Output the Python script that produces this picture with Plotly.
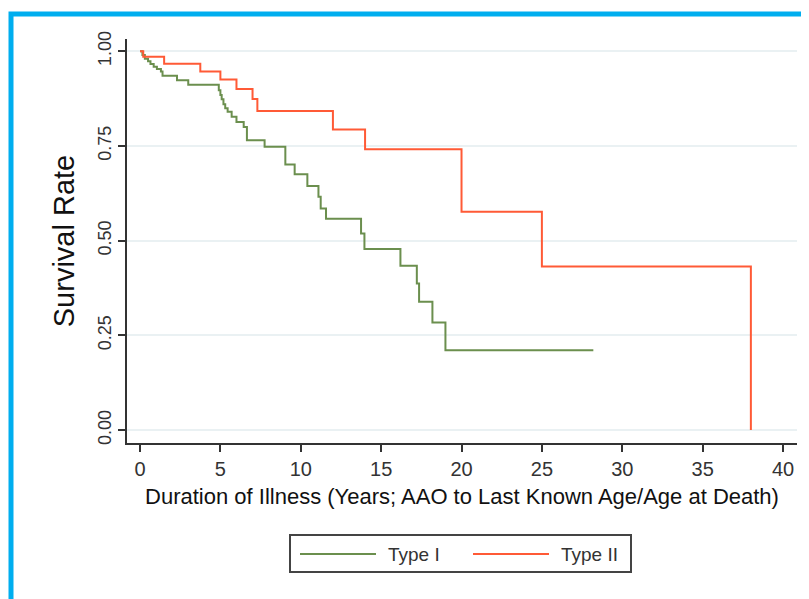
import plotly.graph_objects as go

# ---- data ----
type1_years = [0, 0.15, 0.3, 0.5, 0.65, 0.85, 1.05, 1.3, 1.4, 2.3, 3.0, 4.9, 5.0, 5.08,
               5.19, 5.3, 5.45, 5.7, 6.0, 6.45, 6.65, 7.75, 9.04, 9.62, 10.41, 11.1,
               11.24, 11.57, 13.75, 13.96, 16.2, 17.22, 17.36, 18.19, 19.0, 28.2]
type1_surv = [1.0, 0.99, 0.98, 0.973, 0.966, 0.959, 0.953, 0.946, 0.935, 0.923, 0.911,
              0.897, 0.884, 0.873, 0.860, 0.849, 0.840, 0.827, 0.813, 0.800, 0.765,
              0.748, 0.701, 0.675, 0.644, 0.616, 0.585, 0.558, 0.519, 0.478, 0.434,
              0.387, 0.339, 0.284, 0.211, 0.211]

type2_years = [0, 0.2, 1.5, 3.75, 5.0, 6.0, 7.0, 7.3, 12.0, 14.0, 20.0, 25.0, 38.0]
type2_surv = [1.0, 0.985, 0.967, 0.946, 0.925, 0.900, 0.874, 0.842, 0.793, 0.741,
              0.576, 0.432, 0.0]

series_names = ["Type I", "Type II"]
x_ticks = [0, 5, 10, 15, 20, 25, 30, 35, 40]
y_ticks = [0.0, 0.25, 0.5, 0.75, 1.0]
y_tick_labels = ["0.00", "0.25", "0.50", "0.75", "1.00"]

GREEN = "#6B8F4E"
RED = "#FF5A36"

fig = go.Figure()
fig.add_trace(go.Scatter(x=type1_years, y=type1_surv, mode="lines", name=series_names[0],
                         line=dict(color=GREEN, width=2, shape="hv"), showlegend=False))
fig.add_trace(go.Scatter(x=type2_years, y=type2_surv, mode="lines", name=series_names[1],
                         line=dict(color=RED, width=2, shape="hv"), showlegend=False))

# figure is placed at (8, 8) in the page (body margin), so coordinates below are figure px
W, H = 809, 599
L, R, T, B = 119, 20, 31, 164
pw, ph = W - L - R, H - T - B


def px_x(p):
    return (p - L) / pw


def px_y(p):
    return (H - B - p) / ph


shapes = [
    # blue frame
    dict(type="rect", xref="paper", yref="paper",
         x0=px_x(3), x1=px_x(830), y0=px_y(640), y1=px_y(6),
         line=dict(color="#00AEEF", width=5), fillcolor="rgba(0,0,0,0)", layer="above"),
    # legend box
    dict(type="rect", xref="paper", yref="paper",
         x0=px_x(282), x1=px_x(623), y0=px_y(564), y1=px_y(527),
         line=dict(color="#444", width=2), fillcolor="white"),
    # legend samples
    dict(type="line", xref="paper", yref="paper",
         x0=px_x(292), x1=px_x(368), y0=px_y(546), y1=px_y(546),
         line=dict(color=GREEN, width=2)),
    dict(type="line", xref="paper", yref="paper",
         x0=px_x(465), x1=px_x(541), y0=px_y(546), y1=px_y(546),
         line=dict(color=RED, width=2)),
]

annotations = [
    dict(text=series_names[0], xref="paper", yref="paper", x=px_x(378), y=px_y(546),
         xanchor="left", yanchor="middle", showarrow=False,
         font=dict(size=19, color="#333")),
    dict(text=series_names[1], xref="paper", yref="paper", x=px_x(551), y=px_y(546),
         xanchor="left", yanchor="middle", showarrow=False,
         font=dict(size=19, color="#333")),
]

fig.update_layout(
    width=W, height=H,
    margin=dict(l=L, r=R, t=T, b=B),
    paper_bgcolor="white", plot_bgcolor="white",
    font=dict(family="Liberation Sans, Arial, sans-serif", color="#222"),
    showlegend=False,
    xaxis=dict(range=[-0.81, 40.87], tickvals=x_ticks, showgrid=False, zeroline=False,
               showline=True, linecolor="#333", linewidth=1.5, ticks="outside",
               ticklen=7, tickwidth=1.5, tickcolor="#333",
               tickfont=dict(size=20, color="#333"),
               title=dict(text="Duration of Illness (Years; AAO to Last Known Age/Age at Death)",
                          font=dict(size=22, color="#111"), standoff=10)),
    yaxis=dict(range=[-0.034, 1.032], tickvals=y_ticks, ticktext=y_tick_labels,
               tickangle=-90, showgrid=True, gridcolor="#EAF1F3", gridwidth=1.5,
               zeroline=False, showline=True, linecolor="#333", linewidth=1.5,
               ticks="outside", ticklen=7, tickwidth=1.5, tickcolor="#333",
               tickfont=dict(size=18, color="#333"),
               title=dict(text="Survival Rate", font=dict(size=29, color="#111"), standoff=12)),
    shapes=shapes,
    annotations=annotations,
)

fig.write_html("out.html")
